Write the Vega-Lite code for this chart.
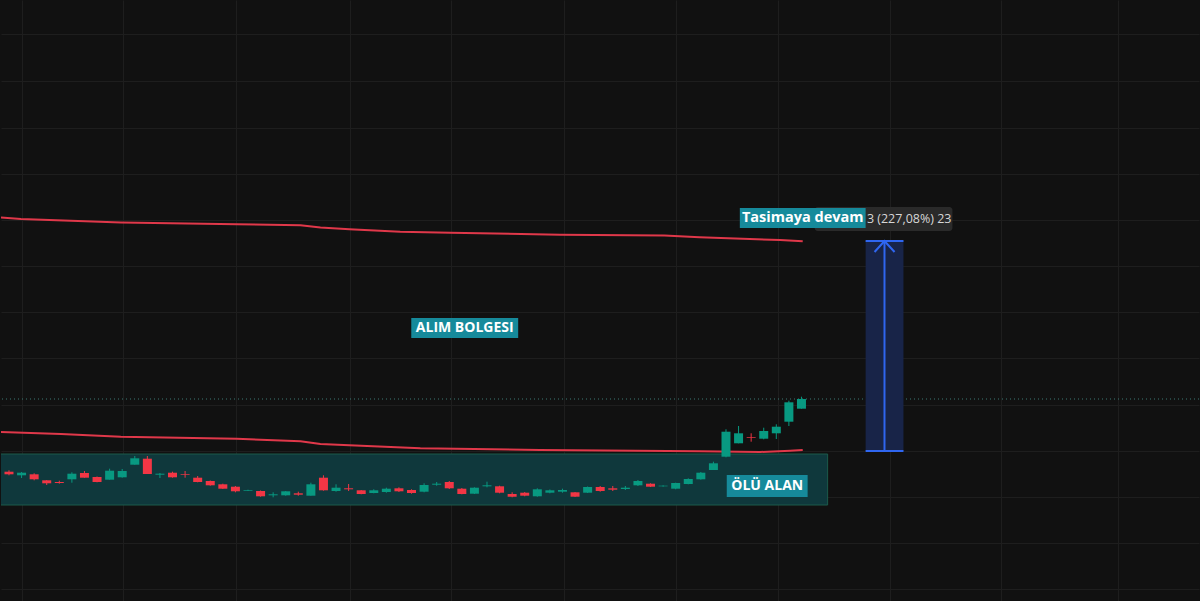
{
  "$schema": "https://vega.github.io/schema/vega-lite/v6.json",
  "width": 1200,
  "height": 601,
  "autosize": {"type": "fit", "contains": "padding"},
  "padding": 0,
  "background": "#111111",
  "config": {"view": {"stroke": null}, "scale": {"continuousPadding": 0}, "axis": {"minExtent": 0, "maxExtent": 0, "tickSize": 0, "labelPadding": 0, "offset": 0, "titlePadding": 0}},
  "datasets": {
    "candles": [
      {"t": -1, "o": 125, "h": 130, "l": 124, "c": 128.3},
      {"t": 0, "o": 129.3, "h": 130.7, "l": 125.7, "c": 126.7},
      {"t": 1, "o": 125.7, "h": 129, "l": 123, "c": 128.3},
      {"t": 2, "o": 126.7, "h": 127.7, "l": 120.7, "c": 121.7},
      {"t": 3, "o": 120.7, "h": 121, "l": 116, "c": 117.7},
      {"t": 4, "o": 119, "h": 120.3, "l": 117.3, "c": 118},
      {"t": 5, "o": 121.7, "h": 128.7, "l": 118.3, "c": 127.3},
      {"t": 6, "o": 128, "h": 130, "l": 123.3, "c": 123.3},
      {"t": 7, "o": 124, "h": 124.5, "l": 118.7, "c": 119},
      {"t": 8, "o": 121.3, "h": 132.3, "l": 121.3, "c": 130.3},
      {"t": 9, "o": 123.7, "h": 132, "l": 123.3, "c": 130},
      {"t": 10, "o": 136.3, "h": 145, "l": 136.3, "c": 142.7},
      {"t": 11, "o": 142.3, "h": 145, "l": 127, "c": 127},
      {"t": 12, "o": 126.3, "h": 128, "l": 123, "c": 127.3},
      {"t": 13, "o": 128.3, "h": 129.3, "l": 123.3, "c": 123.7},
      {"t": 14, "o": 126.7, "h": 130, "l": 123.3, "c": 126},
      {"t": 15, "o": 123.3, "h": 125, "l": 118.7, "c": 119},
      {"t": 16, "o": 120, "h": 120.5, "l": 115.3, "c": 115.7},
      {"t": 17, "o": 116.7, "h": 117.3, "l": 112, "c": 112.3},
      {"t": 18, "o": 114.3, "h": 115, "l": 108.7, "c": 109.7},
      {"t": 19, "o": 110.3, "h": 111.3, "l": 110, "c": 111},
      {"t": 20, "o": 110, "h": 110.5, "l": 104.3, "c": 104.7},
      {"t": 21, "o": 105.7, "h": 108.7, "l": 103.7, "c": 106.7},
      {"t": 22, "o": 105.7, "h": 110, "l": 105.3, "c": 109.7},
      {"t": 23, "o": 107.7, "h": 109.3, "l": 105.3, "c": 106.3},
      {"t": 24, "o": 105.3, "h": 118.3, "l": 105.3, "c": 116.7},
      {"t": 25, "o": 123.3, "h": 125.7, "l": 110.3, "c": 110.7},
      {"t": 26, "o": 110, "h": 116.7, "l": 109.3, "c": 113.3},
      {"t": 27, "o": 112.7, "h": 117, "l": 110, "c": 111.7},
      {"t": 28, "o": 110.7, "h": 111, "l": 106.7, "c": 107},
      {"t": 29, "o": 108, "h": 111.7, "l": 107.7, "c": 110.7},
      {"t": 30, "o": 109, "h": 113.3, "l": 108.3, "c": 112.3},
      {"t": 31, "o": 112.7, "h": 113.7, "l": 109, "c": 109.7},
      {"t": 32, "o": 111, "h": 111.7, "l": 107.3, "c": 108},
      {"t": 33, "o": 109.3, "h": 117.7, "l": 108.7, "c": 116},
      {"t": 34, "o": 116.3, "h": 119, "l": 115.3, "c": 117.3},
      {"t": 35, "o": 119, "h": 120, "l": 112, "c": 112.7},
      {"t": 36, "o": 112.3, "h": 113, "l": 106.7, "c": 107},
      {"t": 37, "o": 107.3, "h": 113.7, "l": 107, "c": 113.3},
      {"t": 38, "o": 114.7, "h": 119.3, "l": 113.7, "c": 115.7},
      {"t": 39, "o": 114.7, "h": 115.3, "l": 107.7, "c": 108.3},
      {"t": 40, "o": 107, "h": 108.7, "l": 103.7, "c": 104.3},
      {"t": 41, "o": 108.3, "h": 109, "l": 104.7, "c": 105.3},
      {"t": 42, "o": 104.7, "h": 112.7, "l": 104.3, "c": 111.7},
      {"t": 43, "o": 108.3, "h": 111.5, "l": 107.7, "c": 110.7},
      {"t": 44, "o": 109.3, "h": 112.3, "l": 108.3, "c": 111},
      {"t": 45, "o": 108.7, "h": 109, "l": 104, "c": 104.3},
      {"t": 46, "o": 108.3, "h": 114.5, "l": 108, "c": 114},
      {"t": 47, "o": 114, "h": 115, "l": 109.3, "c": 110},
      {"t": 48, "o": 112.7, "h": 115, "l": 110, "c": 111.3},
      {"t": 49, "o": 112, "h": 115, "l": 111, "c": 113.3},
      {"t": 50, "o": 115.7, "h": 121, "l": 115, "c": 120},
      {"t": 51, "o": 117.3, "h": 117.7, "l": 114, "c": 114.3},
      {"t": 52, "o": 114.7, "h": 115.7, "l": 114.3, "c": 115.3},
      {"t": 53, "o": 112.3, "h": 118.3, "l": 111.7, "c": 118},
      {"t": 54, "o": 117, "h": 122.7, "l": 116.7, "c": 122},
      {"t": 55, "o": 121.7, "h": 129, "l": 121.3, "c": 128.3},
      {"t": 56, "o": 131, "h": 139.3, "l": 131, "c": 137.7},
      {"t": 57, "o": 144.3, "h": 171.7, "l": 143.7, "c": 169.3},
      {"t": 58, "o": 157.7, "h": 175, "l": 157.7, "c": 167.7},
      {"t": 59, "o": 164, "h": 167.7, "l": 159.3, "c": 163.3},
      {"t": 60, "o": 162.3, "h": 173.3, "l": 161.7, "c": 170},
      {"t": 61, "o": 167.7, "h": 176.7, "l": 162, "c": 174.3},
      {"t": 62, "o": 179.3, "h": 200.3, "l": 175, "c": 198.7},
      {"t": 63, "o": 192.3, "h": 204.3, "l": 192.3, "c": 202}
    ],
    "bands": [
      {"band": "upper", "t": -0.635, "p": 383.5},
      {"band": "upper", "t": 0.95, "p": 382},
      {"band": "upper", "t": 8.89, "p": 378.5},
      {"band": "upper", "t": 18.1, "p": 376.7},
      {"band": "upper", "t": 23.17, "p": 375.7},
      {"band": "upper", "t": 24.76, "p": 373.5},
      {"band": "upper", "t": 27.06, "p": 371.7},
      {"band": "upper", "t": 31.1, "p": 369.3},
      {"band": "upper", "t": 35.08, "p": 368.3},
      {"band": "upper", "t": 43.8, "p": 366.3},
      {"band": "upper", "t": 52.1, "p": 365.5},
      {"band": "upper", "t": 54.9, "p": 363.7},
      {"band": "upper", "t": 61.3, "p": 361},
      {"band": "upper", "t": 63.1, "p": 359.7},
      {"band": "lower", "t": -0.635, "p": 169},
      {"band": "lower", "t": 4.13, "p": 167},
      {"band": "lower", "t": 8.89, "p": 164.3},
      {"band": "lower", "t": 18.1, "p": 162.3},
      {"band": "lower", "t": 23.17, "p": 159.7},
      {"band": "lower", "t": 24.76, "p": 157},
      {"band": "lower", "t": 27.06, "p": 155.7},
      {"band": "lower", "t": 32.7, "p": 152.7},
      {"band": "lower", "t": 42.2, "p": 151},
      {"band": "lower", "t": 54.9, "p": 149.7},
      {"band": "lower", "t": 59.7, "p": 149},
      {"band": "lower", "t": 62.1, "p": 150.3},
      {"band": "lower", "t": 63.1, "p": 151}
    ],
    "zone": [{"t1": -1, "t2": 65.08, "p1": 147, "p2": 96}],
    "labels": [
      {"name": "ALIM BOLGESI", "t1": 31.98, "t2": 40.48, "p1": 283, "p2": 263, "tc": 36.23, "pc": 273},
      {"name": "ÖLÜ ALAN", "t1": 57.06, "t2": 63.49, "p1": 126, "p2": 104, "tc": 60.28, "pc": 115}
    ],
    "measure": [{"t1": 68.1, "t2": 71.11, "top": 360, "bottom": 150, "tm": 69.6}],
    "head": [
      {"t": 68.81, "p": 349},
      {"t": 69.6, "p": 360},
      {"t": 70.4, "p": 349}
    ],
    "info": [{"t1": 64.05, "t2": 75.0, "p1": 394, "p2": 370, "tx": 68.2, "px": 382, "text": "3 (227,08%) 23"}],
    "title": [{"t1": 58.1, "t2": 68.1, "p1": 393, "p2": 373, "tc": 63.1, "pc": 383, "text": "Tasimaya devam"}],
    "last": [{"p": 202}]
  },
  "layer": [
    {
      "data": {"name": "zone"},
      "mark": {"type": "rect", "fill": "#0f383c", "stroke": "#1c5a4b", "strokeWidth": 1, "clip": true},
      "encoding": {
        "x": {"field": "t1", "type": "quantitative",
              "scale": {"domain": [-0.635, 94.603], "nice": false, "zero": false, "padding": 0},
              "axis": {"values": [1.03, 9.05, 18.02, 27.14, 35.16, 44.13, 53.02, 61.11, 70.0, 78.9, 88.2],
                       "grid": true, "gridColor": "#1e1e1e", "gridWidth": 1, "labels": false, "ticks": false, "domain": false, "title": null}},
        "x2": {"field": "t2"},
        "y": {"field": "p1", "type": "quantitative",
              "scale": {"domain": [0, 601], "nice": false, "zero": false, "padding": 0},
              "axis": {"values": [567, 520, 473, 427, 381, 335, 289, 243, 196, 150, 104, 58, 12],
                       "grid": true, "gridColor": "#1e1e1e", "gridWidth": 1, "labels": false, "ticks": false, "domain": false, "title": null}},
        "y2": {"field": "p2"}
      }
    },
    {
      "data": {"name": "bands"},
      "mark": {"type": "line", "color": "#e0384a", "strokeWidth": 2, "clip": true},
      "encoding": {
        "x": {"field": "t", "type": "quantitative"},
        "y": {"field": "p", "type": "quantitative"},
        "detail": {"field": "band"}
      }
    },
    {
      "data": {"name": "last"},
      "mark": {"type": "rule", "color": "#3d7a74", "strokeWidth": 1, "strokeDash": [1, 3]},
      "encoding": {"y": {"field": "p", "type": "quantitative"}}
    },
    {
      "data": {"name": "candles"},
      "mark": {"type": "rule", "strokeWidth": 1, "clip": true},
      "encoding": {
        "x": {"field": "t", "type": "quantitative"},
        "y": {"field": "l", "type": "quantitative"},
        "y2": {"field": "h"},
        "color": {"condition": {"test": "datum.c >= datum.o", "value": "#089981"}, "value": "#f23645"}
      }
    },
    {
      "data": {"name": "candles"},
      "mark": {"type": "bar", "size": 9, "clip": true},
      "encoding": {
        "x": {"field": "t", "type": "quantitative"},
        "y": {"field": "o", "type": "quantitative"},
        "y2": {"field": "c"},
        "color": {"condition": {"test": "datum.c >= datum.o", "value": "#089981"}, "value": "#f23645"}
      }
    },
    {
      "data": {"name": "labels"},
      "mark": {"type": "rect", "fill": "#168a9b"},
      "encoding": {
        "x": {"field": "t1", "type": "quantitative"},
        "x2": {"field": "t2"},
        "y": {"field": "p1", "type": "quantitative"},
        "y2": {"field": "p2"}
      }
    },
    {
      "data": {"name": "labels"},
      "mark": {"type": "text", "color": "#ffffff", "font": "Open Sans", "fontWeight": "bold", "fontSize": 14, "align": "center", "baseline": "middle"},
      "encoding": {
        "x": {"field": "tc", "type": "quantitative"},
        "y": {"field": "pc", "type": "quantitative"},
        "text": {"field": "name"}
      }
    },
    {
      "data": {"name": "measure"},
      "mark": {"type": "rect", "fill": "#182448"},
      "encoding": {
        "x": {"field": "t1", "type": "quantitative"},
        "x2": {"field": "t2"},
        "y": {"field": "top", "type": "quantitative"},
        "y2": {"field": "bottom"}
      }
    },
    {
      "data": {"name": "measure"},
      "mark": {"type": "rule", "color": "#2f66f0", "strokeWidth": 2},
      "encoding": {
        "x": {"field": "t1", "type": "quantitative"},
        "x2": {"field": "t2"},
        "y": {"field": "top", "type": "quantitative"}
      }
    },
    {
      "data": {"name": "measure"},
      "mark": {"type": "rule", "color": "#2f66f0", "strokeWidth": 2},
      "encoding": {
        "x": {"field": "t1", "type": "quantitative"},
        "x2": {"field": "t2"},
        "y": {"field": "bottom", "type": "quantitative"}
      }
    },
    {
      "data": {"name": "measure"},
      "mark": {"type": "rule", "color": "#2f66f0", "strokeWidth": 2},
      "encoding": {
        "x": {"field": "tm", "type": "quantitative"},
        "y": {"field": "top", "type": "quantitative"},
        "y2": {"field": "bottom"}
      }
    },
    {
      "data": {"name": "head"},
      "mark": {"type": "line", "color": "#2f66f0", "strokeWidth": 2},
      "encoding": {
        "x": {"field": "t", "type": "quantitative"},
        "y": {"field": "p", "type": "quantitative"},
        "order": {"field": "t"}
      }
    },
    {
      "data": {"name": "info"},
      "mark": {"type": "rect", "fill": "#2a2a2a", "cornerRadius": 3},
      "encoding": {
        "x": {"field": "t1", "type": "quantitative"},
        "x2": {"field": "t2"},
        "y": {"field": "p1", "type": "quantitative"},
        "y2": {"field": "p2"}
      }
    },
    {
      "data": {"name": "info"},
      "mark": {"type": "text", "color": "#d6d6d6", "font": "Open Sans", "fontSize": 12.5, "align": "left", "baseline": "middle"},
      "encoding": {
        "x": {"field": "tx", "type": "quantitative"},
        "y": {"field": "px", "type": "quantitative"},
        "text": {"field": "text"}
      }
    },
    {
      "data": {"name": "title"},
      "mark": {"type": "rect", "fill": "#168a9b"},
      "encoding": {
        "x": {"field": "t1", "type": "quantitative"},
        "x2": {"field": "t2"},
        "y": {"field": "p1", "type": "quantitative"},
        "y2": {"field": "p2"}
      }
    },
    {
      "data": {"name": "title"},
      "mark": {"type": "text", "color": "#ffffff", "font": "Open Sans", "fontWeight": "bold", "fontSize": 14.5, "align": "center", "baseline": "middle"},
      "encoding": {
        "x": {"field": "tc", "type": "quantitative"},
        "y": {"field": "pc", "type": "quantitative"},
        "text": {"field": "text"}
      }
    }
  ]
}
